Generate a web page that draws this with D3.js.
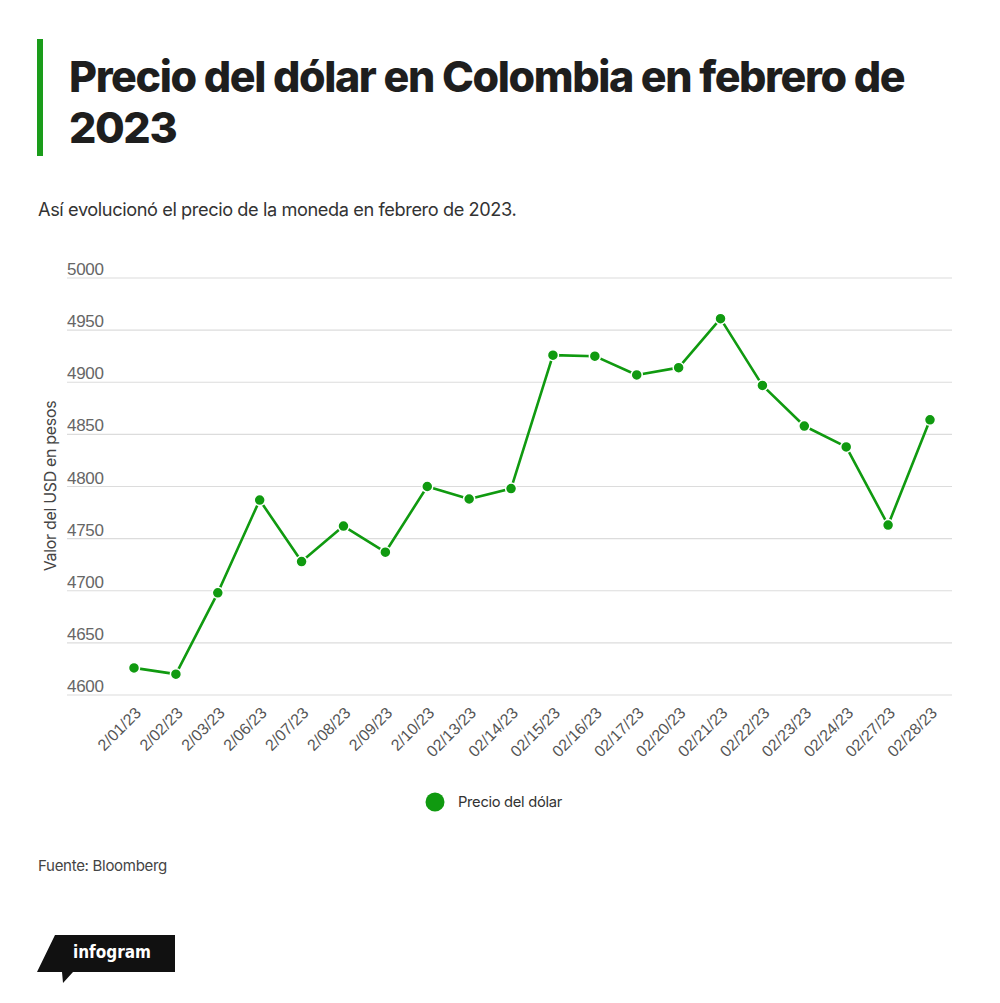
<!DOCTYPE html>
<html>
<head>
<meta charset="utf-8">
<script src="https://cdn.jsdelivr.net/npm/d3@7"></script>
<style>
  html, body { margin: 0; padding: 0; background: #fff; }
  svg { display: block; }
</style>
</head>
<body>
<svg id="chart" width="1000" height="1003"></svg>
<script>
// ---- Data ----
const dates = ["2/01/23","2/02/23","2/03/23","2/06/23","2/07/23","2/08/23","2/09/23","2/10/23",
  "02/13/23","02/14/23","02/15/23","02/16/23","02/17/23","02/20/23","02/21/23","02/22/23",
  "02/23/23","02/24/23","02/27/23","02/28/23"];
const prices = [4626, 4620, 4698, 4787, 4728, 4762, 4737, 4800, 4788, 4798,
  4926, 4925, 4907, 4914, 4961, 4897, 4858, 4838, 4763, 4864];
const yTicks = [4600, 4650, 4700, 4750, 4800, 4850, 4900, 4950, 5000];
const seriesName = "Precio del dólar";
const titleLines = ["Precio del dólar en Colombia en febrero de", "2023"];
const subtitle = "Así evolucionó el precio de la moneda en febrero de 2023.";
const yAxisTitle = "Valor del USD en pesos";
const source = "Fuente: Bloomberg";

// ---- Styles ----
const green = "#109a10";
const svg = d3.select("#chart");

function fitText(sel, target) {
  const len = sel.node().getComputedTextLength();
  const fs = parseFloat(sel.attr("font-size"));
  sel.attr("font-size", fs * target / len);
}

// Title bar
svg.append("rect").attr("x", 37).attr("y", 39).attr("width", 6).attr("height", 117).attr("fill", "#1a9c1a");

const t1 = svg.append("text").attr("x", 69).attr("y", 92)
  .attr("font-family", "Inter, 'Noto Sans', sans-serif").attr("font-weight", 800)
  .attr("font-size", 42).attr("letter-spacing", "-1.4").attr("fill", "#1e1e1e").text(titleLines[0]);
fitText(t1, 834);
svg.append("text").attr("x", 69).attr("y", 143)
  .attr("font-family", "Inter, 'Noto Sans', sans-serif").attr("font-weight", 800)
  .attr("font-size", t1.attr("font-size")).attr("letter-spacing", "-1.4").attr("fill", "#1e1e1e").text(titleLines[1]);

const st = svg.append("text").attr("x", 38).attr("y", 216)
  .attr("font-family", "Inter, 'Noto Sans', sans-serif").attr("font-weight", 400)
  .attr("font-size", 17).attr("letter-spacing", "-0.4").attr("fill", "#333").text(subtitle);
fitText(st, 477);

// ---- Scales ----
const x = d3.scalePoint().domain(dates).range([134, 930]);
const y = d3.scaleLinear().domain([4600, 5000]).range([695, 278]);

// Grid + y labels
const grid = svg.append("g");
grid.selectAll("line").data(yTicks).join("line")
  .attr("x1", 67).attr("x2", 952)
  .attr("y1", d => y(d)).attr("y2", d => y(d))
  .attr("stroke", "#dcdcdc").attr("stroke-width", 1.2);
grid.selectAll("text").data(yTicks).join("text")
  .attr("x", 67).attr("y", d => y(d) - 3)
  .attr("font-family", "'Liberation Sans', Arial, sans-serif")
  .attr("font-size", 17).attr("fill", "#666").attr("letter-spacing", "-0.3")
  .text(d => d);

// Y axis title
const yt = svg.append("text")
  .attr("transform", `translate(56, ${(400 + 572) / 2}) rotate(-90)`)
  .attr("text-anchor", "middle")
  .attr("font-family", "Inter, 'Noto Sans', sans-serif")
  .attr("font-size", 14.5).attr("fill", "#444").attr("letter-spacing", "-0.3")
  .text(yAxisTitle);
fitText(yt, 170);

// X labels
svg.append("g").selectAll("text").data(dates).join("text")
  .attr("transform", d => `translate(${x(d) + 8}, 714) rotate(-45)`)
  .attr("text-anchor", "end")
  .attr("font-family", "'Liberation Sans', Arial, sans-serif")
  .attr("font-size", 16).attr("fill", "#555")
  .text(d => d);

// Line
const line = d3.line().x((d, i) => x(dates[i])).y(d => y(d));
svg.append("path").datum(prices)
  .attr("d", line).attr("fill", "none")
  .attr("stroke", green).attr("stroke-width", 2.6).attr("stroke-linejoin", "round");

svg.append("g").selectAll("circle").data(prices).join("circle")
  .attr("cx", (d, i) => x(dates[i])).attr("cy", d => y(d))
  .attr("r", 5.5).attr("fill", green)
  .attr("stroke", "#fff").attr("stroke-width", 1.5);

// Legend
svg.append("circle").attr("cx", 435).attr("cy", 802).attr("r", 9.5).attr("fill", green);
const lg = svg.append("text").attr("x", 458).attr("y", 807)
  .attr("font-family", "Inter, 'Noto Sans', sans-serif")
  .attr("font-size", 14.5).attr("letter-spacing", "-0.3").attr("fill", "#333").text(seriesName);
fitText(lg, 104);

// Source
const src = svg.append("text").attr("x", 38).attr("y", 871)
  .attr("font-family", "Inter, 'Noto Sans', sans-serif")
  .attr("font-size", 14.5).attr("letter-spacing", "-0.3").attr("fill", "#444").text(source);
fitText(src, 129);

// Logo
svg.append("path")
  .attr("d", "M55,935 L175,935 L175,972 L73,972 L63,983 L62,972 L37,972 Z")
  .attr("fill", "#111");
const lt = svg.append("text").attr("x", 73).attr("y", 958)
  .attr("font-family", "'DejaVu Sans Condensed', 'DejaVu Sans', sans-serif")
  .attr("font-weight", 700).attr("font-size", 21).attr("fill", "#fff").text("infogram");
fitText(lt, 78);
</script>
</body>
</html>
